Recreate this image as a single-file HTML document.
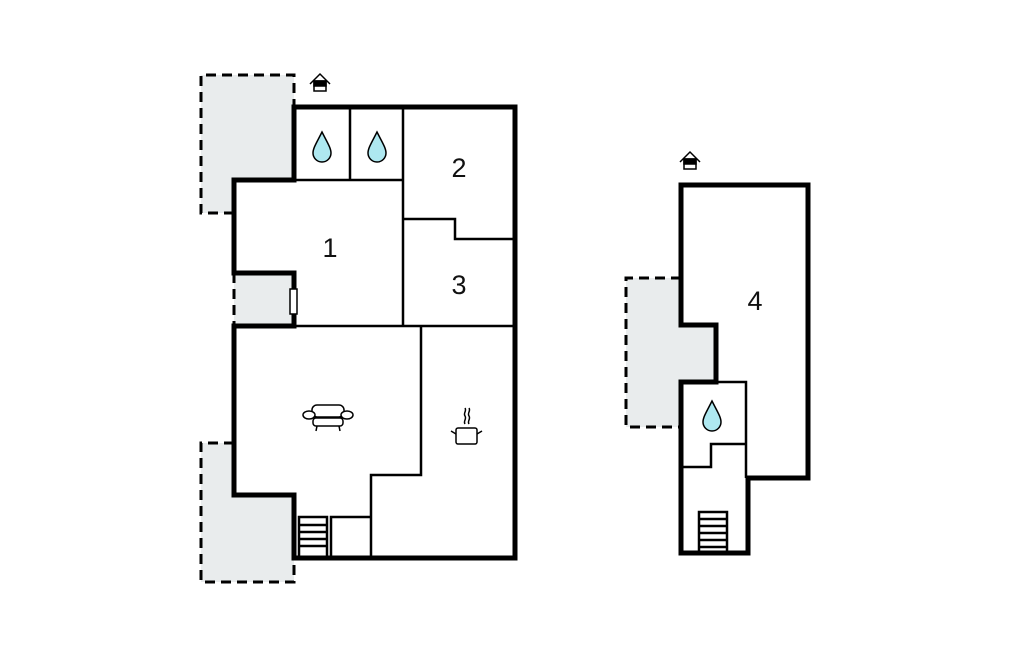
<!DOCTYPE html><html><head><style>body{margin:0;background:#fff}</style></head><body>
<svg width="1024" height="652" viewBox="0 0 1024 652" xmlns="http://www.w3.org/2000/svg" font-family="Liberation Sans, sans-serif">
<g fill="#e9eced">
<polygon points="201,75 294,75 294,180 234,180 234,213 201,213"/>
<rect x="234" y="273" width="60" height="53"/>
<polygon points="201,443 234,443 234,495 294,495 294,582 201,582"/>
<polygon points="626,278 681,278 681,325 716,325 716,382 681,382 681,427 626,427"/>
</g>
<g fill="none" stroke="#000" stroke-width="3" stroke-dasharray="10,6">
<polyline points="234,213 201,213 201,75 294,75 294,107"/>
<line x1="234" y1="273" x2="234" y2="326"/>
<polyline points="234,443 201,443 201,582 294,582 294,558"/>
<polyline points="681,278 626,278 626,427 681,427"/>
</g>
<g fill="none" stroke="#000" stroke-width="2.5">
<line x1="350" y1="107" x2="350" y2="180"/>
<line x1="403" y1="107" x2="403" y2="326"/>
<line x1="294" y1="180" x2="403" y2="180"/>
<polyline points="403,219 455,219 455,239 515,239"/>
<line x1="294" y1="326" x2="515" y2="326"/>
<polyline points="421,326 421,475 371,475 371,558"/>
<polyline points="331,558 331,517 371,517"/>
<rect x="299" y="517" width="28" height="40"/>
<line x1="299" y1="525" x2="327" y2="525"/><line x1="299" y1="532" x2="327" y2="532"/><line x1="299" y1="539" x2="327" y2="539"/><line x1="299" y1="546" x2="327" y2="546"/>
<polyline points="716,382 746,382 746,478"/>
<polyline points="746,444 711,444 711,467 681,467"/>
<rect x="699" y="512" width="28" height="40"/>
<line x1="699" y1="519" x2="727" y2="519"/><line x1="699" y1="526" x2="727" y2="526"/><line x1="699" y1="533" x2="727" y2="533"/><line x1="699" y1="540" x2="727" y2="540"/><line x1="699" y1="547" x2="727" y2="547"/>
</g>
<g fill="none" stroke="#000" stroke-width="5" stroke-linecap="square">
<polyline points="294,273 234,273 234,180 294,180 294,107 515,107 515,558 294,558 294,495 234,495 234,326 294,326 294,273"/>
<polyline points="681,382 716,382 716,325 681,325 681,185 808,185 808,478 748,478 748,553 681,553 681,382"/>
</g>
<rect x="290" y="289" width="7" height="25" fill="#fff" stroke="#000" stroke-width="1.5"/>
<g font-size="27" text-anchor="middle" fill="#111">
<text x="330" y="257">1</text><text x="459" y="177">2</text><text x="459" y="294">3</text><text x="755" y="310">4</text>
</g>
<g fill="#aee8f0" stroke="#000" stroke-width="1.5">
<path d="M322,132 C317,142 313,148 313,153 A9,9 0 0 0 331,153 C331,148 327,142 322,132Z"/>
<path d="M377,132 C372,142 368,148 368,153 A9,9 0 0 0 386,153 C386,148 382,142 377,132Z"/>
<path d="M712,401 C707,411 703,417 703,422 A9,9 0 0 0 721,422 C721,417 717,411 712,401Z"/>
</g>
<g stroke="#000" stroke-width="1.5" fill="none">
<polyline points="310,84 320,74 330,84"/><rect x="314" y="81" width="12" height="10" fill="#fff"/><rect x="314" y="81" width="12" height="5" fill="#000"/>
<polyline points="680,162 690,152 700,162"/><rect x="684" y="159" width="12" height="10" fill="#fff"/><rect x="684" y="159" width="12" height="5" fill="#000"/>
<rect x="312" y="405" width="32" height="12" rx="5"/><ellipse cx="309" cy="415" rx="6" ry="4" fill="#fff"/><ellipse cx="347" cy="415" rx="6" ry="4" fill="#fff"/>
<rect x="313" y="418" width="30" height="8" rx="3" fill="#fff"/><line x1="317" y1="426" x2="316" y2="431"/><line x1="339" y1="426" x2="340" y2="431"/>
<rect x="456" y="428" width="21" height="16" rx="2"/><line x1="451" y1="431" x2="456" y2="434"/><line x1="482" y1="431" x2="477" y2="434"/>
<path d="M465,424 c-2,-3 2,-5 0,-8 c-2,-3 2,-5 0,-8"/><path d="M469,424 c-2,-3 2,-5 0,-8 c-2,-3 2,-5 0,-8"/>
</g>
</svg>
</body></html>
